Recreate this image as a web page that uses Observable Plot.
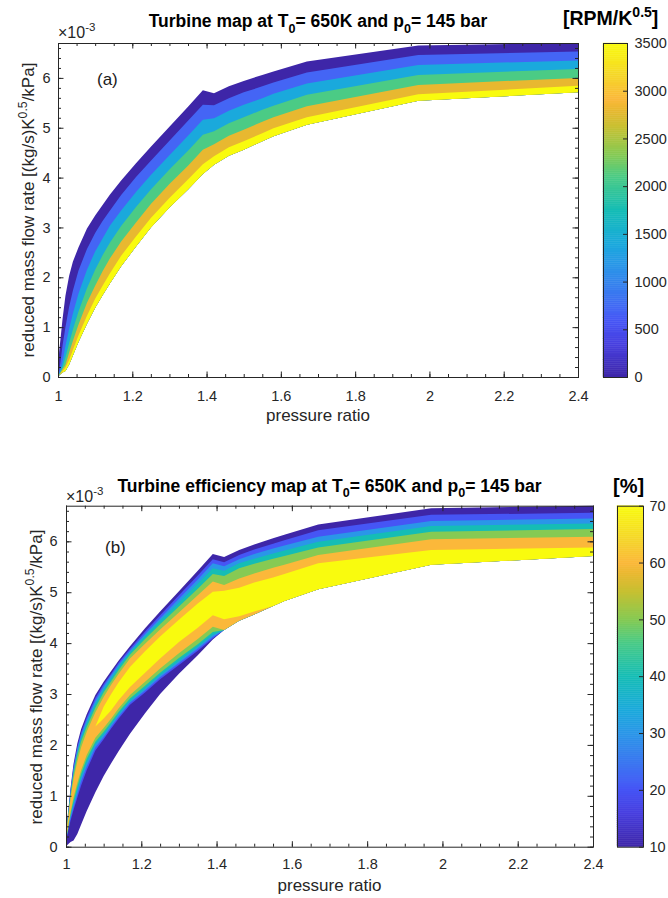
<!DOCTYPE html>
<html>
<head>
<meta charset="utf-8">
<script src="https://cdn.jsdelivr.net/npm/d3@7"></script>
<script src="https://cdn.jsdelivr.net/npm/@observablehq/plot@0.6"></script>
<style>
  body { margin: 0; background: #fff; }
  #fig { position: relative; width: 668px; height: 898px; overflow: hidden; background: #fff; }
  #fig > svg { position: absolute; }
</style>
</head>
<body>
<div id="fig"></div>
<script>
// ---- shared grid: pressure ratio samples of the map lines ----
const pressureRatio = [1.0, 1.003, 1.007, 1.012, 1.02, 1.03, 1.04, 1.055, 1.078, 1.1, 1.12, 1.14, 1.17,
                       1.21, 1.25, 1.3, 1.35, 1.39, 1.42, 1.46, 1.5, 1.55, 1.58, 1.67, 1.97, 2.4];

// map envelope, reduced mass flow in 1e-3 (kg/s)K^0.5/kPa
const flowTop    = [0.03, 0.5, 0.78, 1.15, 1.63, 2.03, 2.31, 2.6, 2.98, 3.24, 3.45, 3.66, 3.94,
                    4.29, 4.62, 5.02, 5.42, 5.75, 5.69, 5.83, 5.94, 6.06, 6.13, 6.33, 6.65, 6.70];
const flowBottom = [0.0, 0.03, 0.06, 0.09, 0.12, 0.25, 0.43, 0.7, 1.07, 1.39, 1.64, 1.88, 2.22,
                    2.62, 3.0, 3.4, 3.76, 4.07, 4.26, 4.44, 4.56, 4.73, 4.83, 5.06, 5.54, 5.71];

// (a) reduced speed contour lines, RPM/K^0.5
const speedLevels = [0, 700, 1400, 2100, 2800, 3500];
const flowN700  = [0.02, 0.12, 0.32, 0.62, 1.0, 1.41, 1.73, 2.13, 2.57, 2.89, 3.13, 3.34, 3.65,
                   4.01, 4.34, 4.74, 5.14, 5.46, 5.45, 5.59, 5.71, 5.83, 5.91, 6.11, 6.46, 6.53];
const flowN1400 = [0.02, 0.07, 0.16, 0.30, 0.62, 0.97, 1.27, 1.67, 2.15, 2.52, 2.78, 3.04, 3.34,
                   3.71, 4.05, 4.45, 4.84, 5.16, 5.19, 5.34, 5.46, 5.59, 5.68, 5.89, 6.26, 6.35];
const flowN2100 = [0.02, 0.05, 0.11, 0.19, 0.39, 0.68, 0.95, 1.31, 1.78, 2.15, 2.44, 2.70, 3.03,
                   3.41, 3.76, 4.16, 4.54, 4.86, 4.93, 5.09, 5.21, 5.36, 5.44, 5.66, 6.06, 6.18];
const flowN2800 = [0.02, 0.04, 0.09, 0.15, 0.24, 0.49, 0.72, 1.05, 1.49, 1.83, 2.12, 2.38, 2.72,
                   3.10, 3.47, 3.87, 4.24, 4.56, 4.67, 4.84, 4.96, 5.12, 5.21, 5.43, 5.86, 6.00];
const flowN3500 = [0.02, 0.03, 0.07, 0.11, 0.19, 0.34, 0.54, 0.83, 1.23, 1.57, 1.83, 2.08, 2.43,
                   2.82, 3.19, 3.59, 3.96, 4.27, 4.43, 4.61, 4.73, 4.89, 4.99, 5.21, 5.67, 5.84];

// (b) efficiency contours, %: each level's region lies between a lower and an upper line
const effLevels = [10, 20, 30, 40, 50, 60, 70];
const effUpper20 = [0.03, 0.48, 0.75, 1.11, 1.57, 1.96, 2.24, 2.54, 2.92, 3.19, 3.40, 3.62, 3.89,
                    4.23, 4.55, 4.94, 5.33, 5.65, 5.59, 5.73, 5.84, 5.95, 6.02, 6.22, 6.52, 6.56];
const effUpper30 = [0.03, 0.47, 0.73, 1.08, 1.52, 1.91, 2.19, 2.49, 2.87, 3.15, 3.37, 3.58, 3.85,
                    4.18, 4.49, 4.87, 5.25, 5.57, 5.51, 5.65, 5.75, 5.86, 5.92, 6.09, 6.40, 6.45];
const effUpper40 = [0.03, 0.45, 0.71, 1.04, 1.48, 1.85, 2.13, 2.43, 2.81, 3.09, 3.31, 3.54, 3.82,
                    4.14, 4.44, 4.80, 5.17, 5.47, 5.42, 5.57, 5.66, 5.76, 5.82, 5.99, 6.30, 6.35];
const effUpper50 = [0.03, 0.43, 0.68, 1.00, 1.42, 1.78, 2.06, 2.35, 2.73, 3.03, 3.25, 3.47, 3.77,
                    4.08, 4.37, 4.72, 5.07, 5.36, 5.32, 5.47, 5.56, 5.66, 5.71, 5.88, 6.19, 6.24];
const effUpper60 = [0.03, 0.41, 0.64, 0.94, 1.33, 1.67, 1.95, 2.26, 2.64, 2.94, 3.18, 3.40, 3.70,
                    3.99, 4.27, 4.60, 4.94, 5.21, 5.14, 5.27, 5.37, 5.48, 5.54, 5.73, 6.04, 6.09];
const effUpper70 = [null, null, null, null, null, null, null, null, 2.36, 2.75, 3.00, 3.23, 3.53,
                    3.84, 4.13, 4.46, 4.78, 5.01, 5.03, 5.09, 5.19, 5.29, 5.36, 5.57, 5.83, 5.88];
const effLower70 = [null, null, null, null, null, null, null, null, 2.36, 2.52, 2.68, 2.88, 3.14,
                    3.42, 3.70, 4.02, 4.30, 4.55, 4.47, 4.53, 4.62, 4.73, 4.83, 5.06, 5.54, 5.71];
const effLower60 = [0.02, 0.29, 0.46, 0.68, 0.97, 1.25, 1.50, 1.80, 2.14, 2.33, 2.52, 2.72, 2.98,
                    3.24, 3.50, 3.80, 4.08, 4.32, 4.26, 4.44, 4.56, 4.73, 4.83, 5.06, 5.54, 5.71];
const effLower50 = [0.02, 0.27, 0.43, 0.64, 0.91, 1.18, 1.43, 1.73, 2.06, 2.26, 2.45, 2.65, 2.91,
                    3.16, 3.42, 3.71, 3.98, 4.22, 4.26, 4.44, 4.56, 4.73, 4.83, 5.06, 5.54, 5.71];
const effLower40 = [0.02, 0.26, 0.41, 0.60, 0.84, 1.10, 1.35, 1.65, 2.01, 2.20, 2.40, 2.60, 2.86,
                    3.11, 3.37, 3.65, 3.93, 4.16, 4.26, 4.44, 4.56, 4.73, 4.83, 5.06, 5.54, 5.71];
const effLower30 = [0.02, 0.24, 0.38, 0.56, 0.78, 1.03, 1.28, 1.57, 1.95, 2.15, 2.36, 2.56, 2.83,
                    3.07, 3.33, 3.61, 3.89, 4.12, 4.26, 4.44, 4.56, 4.73, 4.83, 5.06, 5.54, 5.71];
const effLower20 = [0.02, 0.22, 0.35, 0.51, 0.72, 0.96, 1.20, 1.50, 1.89, 2.11, 2.32, 2.52, 2.79,
                    3.03, 3.29, 3.57, 3.85, 4.09, 4.26, 4.44, 4.56, 4.73, 4.83, 5.06, 5.54, 5.71];

// axis ticks
const prTicks = [1, 1.2, 1.4, 1.6, 1.8, 2, 2.2, 2.4];
const flowTicks = [0, 1, 2, 3, 4, 5, 6];
const speedTicks = [0, 500, 1000, 1500, 2000, 2500, 3000, 3500];
const effTicks = [10, 20, 30, 40, 50, 60, 70];
const prMinorTicks = d3.range(1, 2.4001, 0.05);
const flowMinorTicks = d3.range(0, 6.7, 0.2);

// parula-like colormap
const parulaStops  = [0, 0.1, 0.167, 0.2, 0.333, 0.4, 0.5, 0.6, 0.667, 0.75, 0.8, 0.833, 0.9, 1];
const parulaColors = ["#3e26a8", "#4840e0", "#4655f5", "#4465f5", "#2a96e8", "#1aa9dc", "#15bdb5", "#4bcb85",
                      "#86ca53", "#c8c032", "#e8b830", "#fbb83a", "#f5d52a", "#f9fb0e"];
const parulaScale = d3.scaleLinear().domain(parulaStops).range(parulaColors).interpolate(d3.interpolateRgb).clamp(true);
const parula = (t) => parulaScale(t);

const FONT = '"Liberation Sans", Arial, Helvetica, sans-serif';
const INK = "#262626";

// ---- region tables (each level's region is drawn over the previous one) ----
const speedEdges = [flowTop, flowN700, flowN1400, flowN2100, flowN2800, flowN3500];
const speedRegions = speedLevels.flatMap((level, k) =>
  pressureRatio.map((pr, i) => ({pr, level, lo: flowBottom[i], hi: speedEdges[k][i]})));

const effUpper = [flowTop, effUpper20, effUpper30, effUpper40, effUpper50, effUpper60, effUpper70];
const effLower = [flowBottom, effLower20, effLower30, effLower40, effLower50, effLower60, effLower70];
const effRegions = effLevels.flatMap((level, k) =>
  pressureRatio.map((pr, i) => ({pr, level, lo: effLower[k][i], hi: effUpper[k][i]})));

// boxed axes with inward ticks on all four sides; tick lengths are given in data units
// from the pixel size of one unit (pxX per unit of pressure ratio, pxY per 1e-3 of flow)
function boxAxes(xPad, yPad, pxX, pxY) {
  const [x0, x1] = [1, 2.4], [y0, y1] = [0, 6.7];
  const tx = (len) => len / pxX, ty = (len) => len / pxY;
  const rules = (ticks, len) => [
    Plot.ruleX(ticks, {x: (d) => d, y1: y0, y2: y0 + ty(len), stroke: INK}),
    Plot.ruleX(ticks, {x: (d) => d, y1: y1, y2: y1 - ty(len), stroke: INK})
  ];
  const rulesY = (ticks, len) => [
    Plot.ruleY(ticks, {y: (d) => d, x1: x0, x2: x0 + tx(len), stroke: INK}),
    Plot.ruleY(ticks, {y: (d) => d, x1: x1, x2: x1 - tx(len), stroke: INK})
  ];
  return [
    ...rules(prMinorTicks, 3), ...rules(prTicks, 5.5),
    ...rulesY(flowMinorTicks, 3), ...rulesY(flowTicks, 5.5),
    Plot.axisX({anchor: "bottom", ticks: prTicks, tickSize: 0, tickPadding: xPad, tickFormat: d3.format("~g"), label: null}),
    Plot.axisY({anchor: "left", ticks: flowTicks, tickSize: 0, tickPadding: yPad, tickFormat: d3.format("d"), label: null}),
    Plot.frame({stroke: INK})
  ];
}

const baseStyle = {fontFamily: FONT, fontSize: "14.5px", color: INK, background: "transparent", overflow: "visible"};

// ---- (a) speed map ----
const chartA = Plot.plot({
  width: 668, height: 440,
  marginLeft: 58, marginRight: 90, marginTop: 43, marginBottom: 63,
  x: {domain: [1, 2.4]},
  y: {domain: [0, 6.7]},
  color: {type: "linear", domain: [0, 3500], interpolate: parula},
  style: baseStyle,
  marks: [
    Plot.areaY(speedRegions, {x: "pr", y1: "lo", y2: "hi", z: "level", fill: "level"}),
    ...boxAxes(13, 8, 520 / 1.4, 334 / 6.7)
  ]
});

// ---- (b) efficiency map ----
const chartB = Plot.plot({
  width: 668, height: 438,
  marginLeft: 66, marginRight: 75, marginTop: 45.7, marginBottom: 51.3,
  x: {domain: [1, 2.4]},
  y: {domain: [0, 6.7]},
  color: {type: "linear", domain: [10, 70], interpolate: parula},
  style: baseStyle,
  marks: [
    Plot.areaY(effRegions, {x: "pr", y1: "lo", y2: "hi", z: "level", fill: "level"}),
    ...boxAxes(12, 9, 527 / 1.4, 341 / 6.7)
  ]
});

// ---- colour bars ----
function colorBar({domain, ticks, step, width, height, marginRight, marginTop, marginBottom, pad}) {
  const ramp = d3.range(domain[0], domain[1], step);
  const barWidth = width - marginRight;
  return Plot.plot({
    width, height, marginLeft: 0, marginRight, marginTop, marginBottom,
    x: {domain: [0, 1], axis: null},
    y: {domain},
    color: {type: "linear", domain, interpolate: parula},
    style: baseStyle,
    marks: [
      Plot.rect(ramp, {x1: 0, x2: 1, y1: (d) => d, y2: (d) => Math.min(d + step * 1.05, domain[1]),
                       fill: (d) => d + step / 2, stroke: (d) => d + step / 2, strokeWidth: 0.4}),
      Plot.ruleY(ticks, {y: (d) => d, x1: 1, x2: 1 - 4 / barWidth, stroke: INK}),
      Plot.frame({stroke: INK}),
      Plot.axisY({anchor: "right", ticks, tickSize: 0, tickPadding: pad, tickFormat: d3.format("d"), label: null})
    ]
  });
}
const barA = colorBar({domain: [0, 3500], ticks: speedTicks, step: 20, width: 65, height: 440,
                       marginRight: 41, marginTop: 43, marginBottom: 63, pad: 7});
const barB = colorBar({domain: [10, 70], ticks: effTicks, step: 0.35, width: 51, height: 438,
                       marginRight: 25, marginTop: 45.7, marginBottom: 51.3, pad: 6});

const fig = document.getElementById("fig");
function place(node, left, top) {
  node.style.left = left + "px";
  node.style.top = top + "px";
  fig.appendChild(node);
}
place(chartA, 0, 0);
place(chartB, 0, 460);
place(barA, 603, 0);
place(barB, 617, 460);

// ---- titles and labels ----
const ov = d3.select(fig).append("svg")
  .attr("width", 668).attr("height", 898)
  .style("left", 0).style("top", 0).style("pointer-events", "none")
  .attr("font-family", FONT);

function richText({x, y, anchor = "start", size, weight = "normal", fill = INK, rotate = 0}, parts) {
  const t = ov.append("text").attr("x", x).attr("y", y).attr("text-anchor", anchor)
    .attr("font-size", size).attr("font-weight", weight).attr("fill", fill);
  if (rotate) t.attr("transform", `rotate(${rotate},${x},${y})`);
  let shift = 0;
  for (const [str, kind] of parts) {
    const target = kind === "sub" ? size * 0.32 : kind === "sup" ? -size * 0.42 : 0;
    const s = t.append("tspan").attr("dy", target - shift).text(str);
    if (kind) s.attr("font-size", size * 0.72);
    shift = target;
  }
}

const yLabel = [["reduced mass flow rate [(kg/s)K"], ["0.5", "sup"], ["/kPa]"]];

// panel (a)
richText({x: 318, y: 27, anchor: "middle", size: 17.5, weight: "bold", fill: "#000"},
  [["Turbine map at T"], ["0", "sub"], ["= 650K and p"], ["0", "sub"], ["= 145 bar"]]);
richText({x: 563, y: 25, size: 19.5, weight: "bold", fill: "#000"}, [["[RPM/K"], ["0.5", "sup"], ["]"]]);
richText({x: 58, y: 38, size: 16}, [["\u00d710"], ["-3", "sup"]]);
richText({x: 97, y: 85, size: 17, fill: "#1a1a1a"}, [["(a)"]]);
richText({x: 318, y: 421, anchor: "middle", size: 17}, [["pressure ratio"]]);
richText({x: 34, y: 210, anchor: "middle", size: 17, rotate: -90}, yLabel);

// panel (b)
richText({x: 329.5, y: 491.7, anchor: "middle", size: 17.5, weight: "bold", fill: "#000"},
  [["Turbine efficiency map at T"], ["0", "sub"], ["= 650K and p"], ["0", "sub"], ["= 145 bar"]]);
richText({x: 613, y: 493, size: 20, weight: "bold", fill: "#000"}, [["[%]"]]);
richText({x: 66, y: 501.7, size: 16}, [["\u00d710"], ["-3", "sup"]]);
richText({x: 105, y: 553, size: 17, fill: "#1a1a1a"}, [["(b)"]]);
richText({x: 329.5, y: 891, anchor: "middle", size: 17}, [["pressure ratio"]]);
richText({x: 41.5, y: 677, anchor: "middle", size: 17, rotate: -90}, yLabel);
</script>
</body>
</html>
